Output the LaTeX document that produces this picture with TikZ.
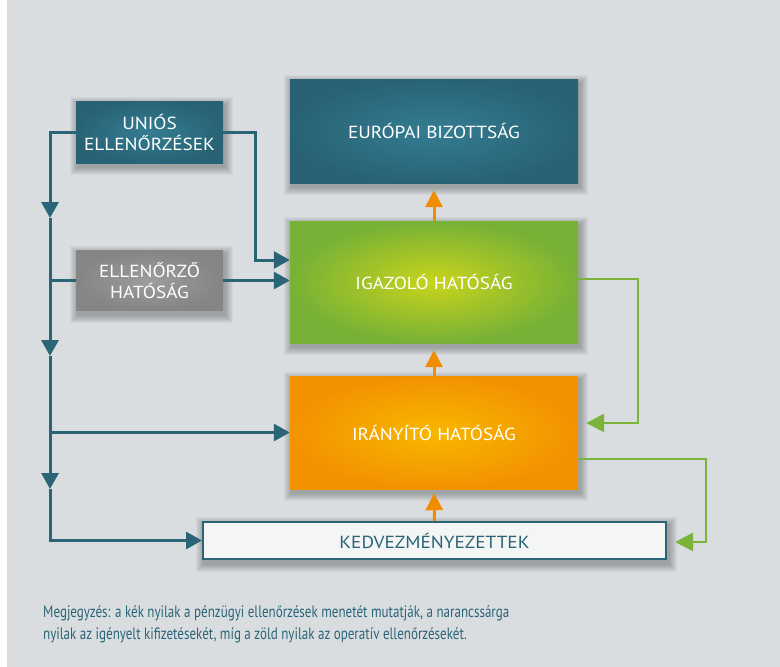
\documentclass[tikz,border=0pt]{standalone}
\usepackage{fontspec}
\setmainfont{PT Sans}
\newfontfamily\boxfont[FakeStretch=1.1]{PT Sans}
\newfontfamily\notefont[FakeStretch=0.79]{PT Sans}
\usetikzlibrary{arrows.meta,calc}
\pgfdeclarelayer{bgzero}
\pgfdeclarelayer{bgone}
\pgfsetlayers{bgzero,bgone,main}
\definecolor{bgc}{HTML}{D9DDE0}
\definecolor{tealE}{HTML}{296275}
\definecolor{tealC}{HTML}{347D92}
\definecolor{grayE}{HTML}{858585}
\definecolor{grayC}{HTML}{9C9C9C}
\definecolor{greenE}{HTML}{77B136}
\definecolor{greenC}{HTML}{C9D41C}
\definecolor{orE}{HTML}{F39200}
\definecolor{orC}{HTML}{F8B700}
\definecolor{kedF}{HTML}{F4F5F5}
\definecolor{lineB}{HTML}{2A6477}
\definecolor{lineG}{HTML}{7AB43A}
\definecolor{lineO}{HTML}{F08C00}
\definecolor{noteC}{HTML}{2A6478}
\newcommand{\softshadow}[1]{%
  \begin{pgfonlayer}{bgone}
  \foreach \s in {1,...,8}{
    \fill[black,opacity=0.035] ([xshift={2-\s},yshift={-4-\s}]#1.south west) rectangle ([xshift={2+\s},yshift={-4+\s}]#1.north east);
  }
  \end{pgfonlayer}}
\tikzset{
  box/.style={rectangle, inner sep=0pt, text=white, align=center,
    font=\boxfont\fontsize{17.5}{21}\selectfont},
  tealbox/.style={box, inner color=tealC, outer color=tealE},
  graybox/.style={box, inner color=grayC, outer color=grayE},
  greenbox/.style={box, inner color=greenC, outer color=greenE},
  orbox/.style={box, inner color=orC, outer color=orE},
  kedbox/.style={rectangle, inner sep=0pt, fill=kedF, draw=lineB, line width=2pt,
    text=lineB, font=\boxfont\fontsize{17.5}{21}\selectfont},
  bl/.style={draw=lineB, line width=3pt},
  barr/.style={-{Triangle[length=16pt,width=17pt]}},
  gr/.style={draw=lineG, line width=2.5pt},
  garr/.style={-{Triangle[length=18pt,width=18pt]}, shorten >=8pt},
  ol/.style={draw=lineO, line width=3pt, -{Triangle[length=17pt,width=17pt]}},
}
\begin{document}
\begin{tikzpicture}[x=1pt,y=-1pt]
\useasboundingbox (0,0) rectangle (780,667);
\begin{pgfonlayer}{bgzero}
\fill[bgc] (7,0) rectangle (780,667);
\end{pgfonlayer}

\node[tealbox, minimum width=147pt, minimum height=62pt] (uni) at (149.5,132) {UNIÓS\\ELLENŐRZÉSEK};
\node[graybox, minimum width=147pt, minimum height=60pt] (ell) at (149.5,280.5) {ELLENŐRZŐ\\HATÓSÁG};
\node[tealbox, minimum width=288pt, minimum height=104pt] (eb) at (434,131) {EURÓPAI BIZOTTSÁG};
\node[greenbox, minimum width=288pt, minimum height=122pt] (iga) at (434,282) {IGAZOLÓ HATÓSÁG};
\node[orbox, minimum width=288pt, minimum height=113pt] (ira) at (434,432.5) {IRÁNYÍTÓ HATÓSÁG};
\node[kedbox, minimum width=463pt, minimum height=37pt] (ked) at (434.5,540.5) {KEDVEZMÉNYEZETTEK};

\softshadow{uni}
\softshadow{ell}
\softshadow{eb}
\softshadow{iga}
\softshadow{ira}
\softshadow{ked}

% blue trunk
\coordinate (a1) at (50,218);
\coordinate (a2) at (50,356);
\coordinate (a3) at (50,489);
\draw[bl,barr] (uni.west) -| (a1);
\draw[bl,barr] (a1) -- (a2);
\draw[bl,barr] (a2) -- (a3);
\draw[bl,barr] (a3) |- (ked.west);
\draw[bl] (a1 |- ell.west) -- (ell.west);
\draw[bl,barr] (a2 |- ira.west) -- (ira.west);
\coordinate (k1) at (255,260);
\draw[bl,barr] (uni.east) -| (k1) -- (k1 -| iga.west);
\draw[bl,barr] (ell.east) -- (ell.east -| iga.west);

% orange
\draw[ol, shorten >=7pt] (iga.north) -- (eb.south);
\draw[ol, shorten >=7pt] (ira.north) -- (iga.south);
\draw[ol, shorten >=4pt] (ked.north) -- (ira.south);

% green
\coordinate (g1) at (638,423);
\draw[gr,garr] ([yshift=3pt]iga.east) -| (g1) -- (g1 -| ira.east);
\coordinate (g2) at (706,542);
\draw[gr,garr] ([yshift=-26.5pt]ira.east) -| (g2) -- (g2 -| ked.east);

\node[anchor=base west, align=left, text=noteC, inner sep=0pt,
  font=\notefont\fontsize{16.5}{22}\selectfont] (note) at (43,639)
  {Megjegyzés: a kék nyilak a pénzügyi ellenőrzések menetét mutatják, a narancssárga\\
   nyilak az igényelt kifizetésekét, míg a zöld nyilak az operatív ellenőrzésekét.};
\end{tikzpicture}
\end{document}
